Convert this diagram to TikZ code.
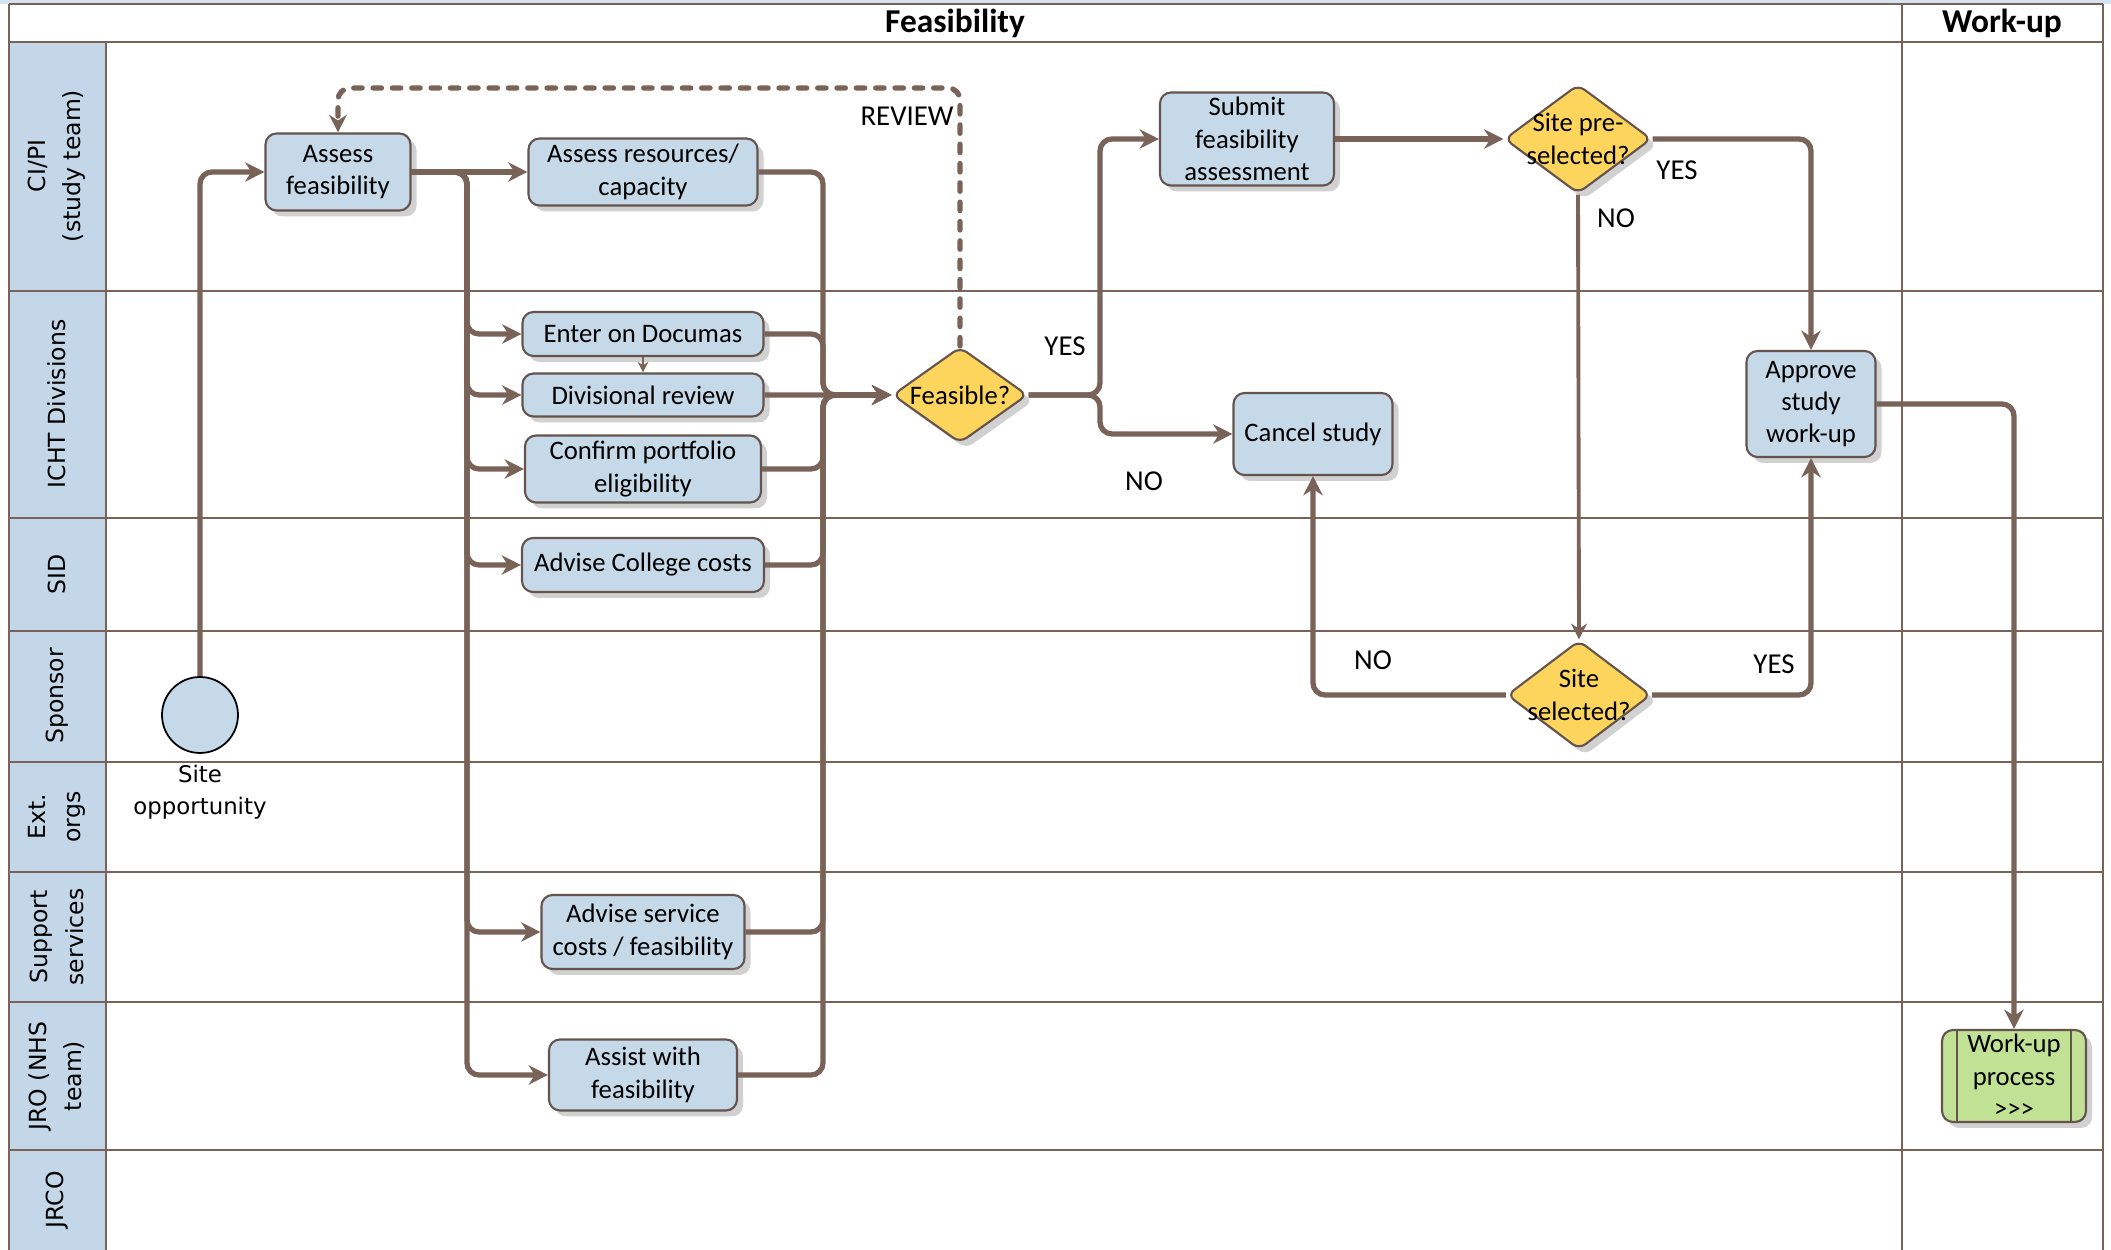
\documentclass[tikz,border=0pt]{standalone}
\usepackage{fontspec}
\setmainfont{Carlito}
\newfontfamily\lanefont{DejaVu Sans}
\usetikzlibrary{arrows.meta,shapes.geometric,shadows}

\definecolor{flowline}{RGB}{121,99,89}
\definecolor{taskedge}{RGB}{100,84,77}
\definecolor{taskblue}{RGB}{198,217,233}
\definecolor{lanefill}{RGB}{196,215,232}
\definecolor{gatefill}{RGB}{254,213,92}
\definecolor{nextfill}{RGB}{193,225,149}

\begin{document}
\begin{tikzpicture}[
  x=0.1mm, y=-0.1mm,
  task/.style={rectangle, rounded corners=1.1mm, draw=taskedge, line width=0.6pt, fill=taskblue,
    align=center, inner sep=1pt, font=\fontsize{7.6}{9.2}\selectfont,
    drop shadow={shadow xshift=0.6mm, shadow yshift=-0.6mm, fill=black!30, opacity=0.6}},
  gate/.style={diamond, rounded corners=0.8mm, draw=taskedge, line width=0.6pt, fill=gatefill,
    align=center, inner sep=-6mm, font=\fontsize{7.6}{9.2}\selectfont,
    drop shadow={shadow xshift=0.6mm, shadow yshift=-0.6mm, fill=black!30, opacity=0.6}},
  flow/.style={draw=flowline, line width=1.5pt, rounded corners=1.2mm, -{Stealth[length=5.5pt,width=5.5pt]}},
  thinflow/.style={flow, line width=1.1pt, -{Stealth[length=4.5pt,width=4.5pt]}},
  review/.style={draw=flowline, line width=1.5pt, rounded corners=1.2mm, line cap=round,
    dash pattern=on 2.4pt off 3.1pt, -{Stealth[length=5pt,width=5pt]}},
  lane/.style={draw=flowline, line width=0.8pt},
  lanelabel/.style={rotate=90, align=center, font=\lanefont\fontsize{6.7}{10}\selectfont},
  answer/.style={font=\fontsize{8.2}{10}\selectfont},
  node distance=6.1mm
]
\useasboundingbox (0,0) rectangle (2111,1250);

% Lanes
\fill[lanefill!70] (0,0) rectangle (2111,4);
\fill[lanefill] (9,42) rectangle (106,1250);
\draw[lane] (9,4) -- (2103,4) (9,42) -- (2103,42) (9,291) -- (2103,291) (9,518) -- (2103,518)
  (9,631) -- (2103,631) (9,762) -- (2103,762) (9,872) -- (2103,872) (9,1002) -- (2103,1002)
  (9,1150) -- (2103,1150);
\draw[lane] (9,4) -- (9,1250) (106,42) -- (106,1250) (1902,4) -- (1902,1250) (2103,4) -- (2103,1250);

\node[font=\bfseries\fontsize{9.5}{11}\selectfont] (feashead) at (955,23) {Feasibility};
\node[font=\bfseries\fontsize{9.5}{11}\selectfont] (workhead) at (2002,23) {Work-up};

\node[lanelabel] (cipi) at (57,166) {CI/PI\\(study team)};
\node[lanelabel] (icht) at (57,404) {ICHT Divisions};
\node[lanelabel] (sid) at (57,574) {SID};
\node[lanelabel] (sponsor) at (57,696) {Sponsor};
\node[lanelabel] (extorgs) at (57,817) {Ext.\\orgs};
\node[lanelabel] (support) at (57,937) {Support\\services};
\node[lanelabel] (jro) at (57,1076) {JRO (NHS\\team)};
\node[lanelabel] (jrco) at (57,1200) {JRCO};

% Start
\node[circle, draw=black, line width=0.5pt, fill=taskblue, minimum size=7.6mm, inner sep=0pt] (siteopp) at (200,715) {};
\node[align=center, font=\lanefont\fontsize{6.5}{9.2}\selectfont] (siteopptxt) at (200,792) {Site\\opportunity};

% Tasks
\node[task, minimum width=14.5mm, minimum height=7.7mm] (assess) at (338,172) {Assess\\feasibility};
\node[task, minimum width=22.9mm, minimum height=6.7mm] (resource) at (643,172) {Assess resources/\\capacity};
\node[task, minimum width=24.1mm, minimum height=4.4mm] (documas) at (643,334) {Enter on Documas};
\node[task, minimum width=24.1mm, minimum height=4.3mm, below of=documas] (divrev) {Divisional review};
\node[task, minimum width=23.6mm, minimum height=6.7mm, below of=divrev, node distance=7.4mm] (portfolio) {Confirm portfolio\\eligibility};
\node[task, minimum width=24.2mm, minimum height=5.4mm] (college) at (643,565) {Advise College costs};
\node[task, minimum width=20.3mm, minimum height=7.4mm] (service) at (643,932) {Advise service\\costs / feasibility};
\node[task, minimum width=18.8mm, minimum height=7.1mm] (jroassist) at (643,1075) {Assist with\\feasibility};
\node[task, minimum width=17.4mm, minimum height=9.3mm] (submit) at (1247,139) {Submit\\feasibility\\assessment};
\node[task, minimum width=15.9mm, minimum height=8.2mm] (cancel) at (1313,434) {Cancel study};
\node[task, minimum width=12.9mm, minimum height=10.6mm] (approve) at (1811,404) {Approve\\study\\work-up};
\node[task, fill=nextfill, minimum width=14.4mm, minimum height=9.2mm] (workup) at (2014,1076) {Work-up\\process\\{>}{>}{>}};
\draw[taskedge, line width=0.6pt] ([xshift=1.6mm]workup.north west) -- ([xshift=1.6mm]workup.south west);
\draw[taskedge, line width=0.6pt] ([xshift=-1.6mm]workup.north east) -- ([xshift=-1.6mm]workup.south east);

% Decisions
\node[gate, minimum width=13.5mm, minimum height=9.6mm] (feasible) at (960,395) {Feasible?};
\node[gate, minimum width=14.7mm, minimum height=10.9mm] (presel) at (1578,139) {Site pre-\\selected?};
\node[gate, minimum width=14.4mm, minimum height=10.9mm] (sitesel) at (1579,695) {Site\\selected?};

% Arrows
\coordinate (fanout) at (467,172);
\coordinate (collect) at (823,395);
\coordinate (split) at (1100,395);
\coordinate (revtop) at (338,88);

\draw[flow] (siteopp.north) |- (assess.west);
\draw[flow] (assess.east) -- (resource.west);
\draw[flow] (assess.east) -- (fanout) |- (documas.west);
\draw[flow] (assess.east) -- (fanout) |- (divrev.west);
\draw[flow] (assess.east) -- (fanout) |- (portfolio.west);
\draw[flow] (assess.east) -- (fanout) |- (college.west);
\draw[flow] (assess.east) -- (fanout) |- (service.west);
\draw[flow] (assess.east) -- (fanout) |- (jroassist.west);
\draw[thinflow, line width=0.6pt, -{Stealth[length=3pt,width=3pt]}] (documas.south) -- (divrev.north);

\draw[flow] (resource.east) -| (collect) -- (feasible.west);
\draw[flow] (documas.east) -| (collect) -- (feasible.west);
\draw[flow] (divrev.east) -- (feasible.west);
\draw[flow] (portfolio.east) -| (collect) -- (feasible.west);
\draw[flow] (college.east) -| (collect) -- (feasible.west);
\draw[flow] (service.east) -| (collect) -- (feasible.west);
\draw[flow] (jroassist.east) -| (collect) -- (feasible.west);

\draw[review] (feasible.north) |- (revtop) -- (assess.north);
\draw[flow] (feasible.east) -- (split) |- (submit.west);
\draw[flow] (feasible.east) -- (split) |- (cancel.west);
\draw[flow] (submit.east) -- (presel.west);
\draw[flow] (presel.east) -| (approve.north);
\draw[thinflow] (presel.south) -- (sitesel.north);
\draw[flow] (sitesel.west) -| (cancel.south);
\draw[flow] (sitesel.east) -| (approve.south);
\draw[flow] (approve.east) -| (workup.north);

% Answers
\node[answer, anchor=east] (revlbl) at (966,116) {REVIEW};
\node[answer] (yes1) at (1065,346) {YES};
\node[answer] (no1) at (1144,481) {NO};
\node[answer] (yes2) at (1677,170) {YES};
\node[answer] (no2) at (1616,218) {NO};
\node[answer] (no3) at (1373,660) {NO};
\node[answer] (yes3) at (1774,664) {YES};
\end{tikzpicture}
\end{document}
